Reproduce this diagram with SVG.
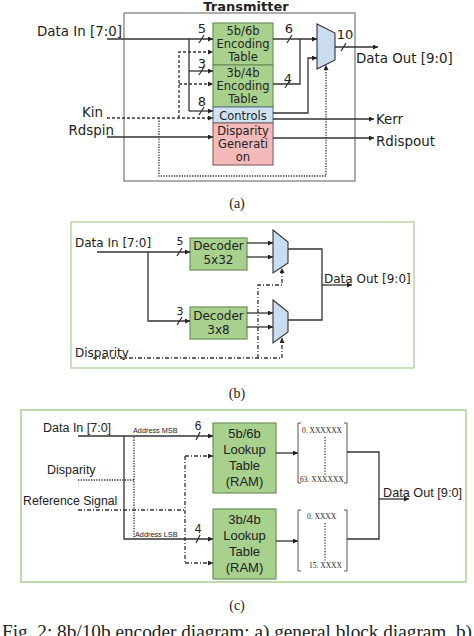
<svg xmlns="http://www.w3.org/2000/svg" width="474" height="636" viewBox="0 0 474 636">
<defs>
<marker id="ar" viewBox="0 0 6 6" refX="6" refY="3" markerWidth="5" markerHeight="5" markerUnits="userSpaceOnUse" orient="auto"><path d="M0,0 L6,3 L0,6 z" fill="#222"/></marker>
</defs>
<style>
.ln{fill:none;stroke:#333;stroke-width:1.3}
.a{marker-end:url(#ar)}
.da{stroke-dasharray:3,2}
.dt{stroke-dasharray:1.3,1.3}
.dd{stroke-dasharray:4,2,1,2}
.t{font-family:"DejaVu Sans",sans-serif;fill:#222}
.c{font-family:"Liberation Sans",sans-serif;fill:#222}
.s{font-family:"Liberation Serif",serif;fill:#222}
.g{fill:#a9d18e;stroke:#6f8f5c;stroke-width:1.2}
.mux{fill:#c9dcf0;stroke:#333;stroke-width:1.1}
.br{fill:none;stroke:#555;stroke-width:1}
</style>
<rect width="474" height="636" fill="#fff"/>

<!-- ===== (a) ===== -->
<g id="a-frame">
<rect x="124" y="13" width="231" height="168" fill="none" stroke="#777" stroke-width="1.2"/>
<text class="t" x="246" y="11" font-size="13" font-weight="bold" text-anchor="middle">Transmitter</text>
</g>
<g id="a-enc56">
<rect x="213" y="23" width="60" height="42" class="g"/>
<text class="t" x="243" y="35" font-size="11.5" text-anchor="middle">5b/6b</text>
<text class="t" x="243" y="48" font-size="11.5" text-anchor="middle">Encoding</text>
<text class="t" x="243" y="61" font-size="11.5" text-anchor="middle">Table</text>
</g>
<g id="a-enc34">
<rect x="213" y="65" width="60" height="42" class="g"/>
<text class="t" x="243" y="77" font-size="11.5" text-anchor="middle">3b/4b</text>
<text class="t" x="243" y="90" font-size="11.5" text-anchor="middle">Encoding</text>
<text class="t" x="243" y="103" font-size="11.5" text-anchor="middle">Table</text>
</g>
<g id="a-controls">
<rect x="213" y="107" width="60" height="16" fill="#cfe2f3" stroke="#6a7f95" stroke-width="1.2"/>
<text class="t" x="243" y="120" font-size="11.5" text-anchor="middle" fill="#1f2f45">Controls</text>
</g>
<g id="a-disp">
<rect x="213" y="123" width="60" height="42" fill="#f4b9b9" stroke="#8a6a6a" stroke-width="1.2"/>
<text class="t" x="243" y="135" font-size="11.5" text-anchor="middle" fill="#4a1a1a">Disparity</text>
<text class="t" x="243" y="148" font-size="11.5" text-anchor="middle" fill="#4a1a1a">Generati</text>
<text class="t" x="243" y="161" font-size="11.5" text-anchor="middle" fill="#4a1a1a">on</text>
</g>
<g id="a-mux">
<polygon points="317,24 335,33 335,60 317,69" class="mux"/>
</g>
<g id="a-labels">
<text class="t" x="37" y="36" font-size="13.4">Data In [7:0]</text>
<text class="t" x="103" y="117" font-size="13.4" text-anchor="end">Kin</text>
<text class="t" x="114" y="135" font-size="13.4" text-anchor="end">Rdspin</text>
<text class="t" x="356" y="63" font-size="13.4">Data Out [9:0]</text>
<text class="t" x="376" y="124" font-size="13.4">Kerr</text>
<text class="t" x="376" y="146" font-size="13.4">Rdispout</text>
<text class="t" x="202" y="33" font-size="13" text-anchor="middle">5</text>
<text class="t" x="202" y="68" font-size="13" text-anchor="middle">3</text>
<text class="t" x="202" y="106" font-size="13" text-anchor="middle">8</text>
<text class="t" x="289" y="33" font-size="13" text-anchor="middle">6</text>
<text class="t" x="288" y="83" font-size="13" text-anchor="middle">4</text>
<text class="t" x="345" y="39" font-size="13" text-anchor="middle">10</text>
<text class="s" x="237" y="208" font-size="14" text-anchor="middle">(a)</text>
</g>

<!-- ===== (b) ===== -->
<g id="b-frame">
<rect x="71" y="222" width="343" height="146" fill="none" stroke="#b7d7a3" stroke-width="1.5"/>
</g>
<g id="b-dec1">
<rect x="190" y="238" width="57" height="32" class="g"/>
<text class="t" x="218.5" y="250" font-size="12" text-anchor="middle">Decoder</text>
<text class="t" x="218.5" y="264" font-size="12" text-anchor="middle">5x32</text>
</g>
<g id="b-dec2">
<rect x="190" y="307" width="57" height="32" class="g"/>
<text class="t" x="218.5" y="320" font-size="12" text-anchor="middle">Decoder</text>
<text class="t" x="218.5" y="334" font-size="12" text-anchor="middle">3x8</text>
</g>
<g id="b-mux1"><polygon points="273,230 288,242 288,263 273,273" class="mux"/></g>
<g id="b-mux2"><polygon points="273,300 288,312 288,332 273,343" class="mux"/></g>
<g id="b-labels">
<text class="t" x="75" y="247" font-size="12">Data In [7:0]</text>
<text class="t" x="75" y="357" font-size="12">Disparity</text>
<text class="t" x="324" y="283" font-size="12">Data Out [9:0]</text>
<text class="t" x="180" y="245" font-size="11" text-anchor="middle">5</text>
<text class="t" x="180" y="315" font-size="11" text-anchor="middle">3</text>
<text class="s" x="237" y="398" font-size="14" text-anchor="middle">(b)</text>
</g>

<!-- ===== (c) ===== -->
<g id="c-frame">
<rect x="21" y="410" width="445" height="172" fill="none" stroke="#a9d18e" stroke-width="1.5"/>
</g>
<g id="c-lut56">
<rect x="213" y="423" width="63" height="70" class="g"/>
<text class="c" x="244.5" y="438" font-size="13" text-anchor="middle">5b/6b</text>
<text class="c" x="244.5" y="454" font-size="13" text-anchor="middle">Lookup</text>
<text class="c" x="244.5" y="470" font-size="13" text-anchor="middle">Table</text>
<text class="c" x="244.5" y="486" font-size="13" text-anchor="middle">(RAM)</text>
</g>
<g id="c-lut34">
<rect x="213" y="509" width="63" height="70" class="g"/>
<text class="c" x="244.5" y="524" font-size="13" text-anchor="middle">3b/4b</text>
<text class="c" x="244.5" y="540" font-size="13" text-anchor="middle">Lookup</text>
<text class="c" x="244.5" y="556" font-size="13" text-anchor="middle">Table</text>
<text class="c" x="244.5" y="572" font-size="13" text-anchor="middle">(RAM)</text>
</g>
<g id="c-mem1">
<path d="M301,423 H298 V483 H301 M344,423 H347 V483 H344" class="br"/>
<path d="M325,437 V476" fill="none" stroke="#333" stroke-width="1.3" stroke-dasharray="1.2,1.6"/>
<text class="s" x="302" y="433" font-size="7.5">0. XXXXXX</text>
<text class="s" x="300" y="482" font-size="7.5">63. XXXXXX</text>
</g>
<g id="c-mem2">
<path d="M301,510 H298 V571 H301 M344,510 H347 V571 H344" class="br"/>
<path d="M325,523 V562" fill="none" stroke="#333" stroke-width="1.3" stroke-dasharray="1.2,1.6"/>
<text class="s" x="307" y="519" font-size="7.5">0. XXXX</text>
<text class="s" x="309" y="568" font-size="7.5">15. XXXX</text>
</g>
<g id="c-labels">
<text class="c" x="43" y="432" font-size="12.5">Data In [7:0]</text>
<text class="c" x="47" y="474" font-size="12.5">Disparity</text>
<text class="c" x="23" y="505" font-size="12.3">Reference Signal</text>
<text class="c" x="383" y="497" font-size="12.7">Data Out [9:0]</text>
<text class="c" x="133" y="433" font-size="7.3">Address MSB</text>
<text class="c" x="135" y="537" font-size="7.3">Address LSB</text>
<text class="c" x="198" y="430" font-size="12" text-anchor="middle">6</text>
<text class="c" x="198" y="533" font-size="12" text-anchor="middle">4</text>
<text class="s" x="237" y="610" font-size="14" text-anchor="middle">(c)</text>
</g>
<g id="caption">
<text class="s" x="2" y="638" font-size="19" textLength="470" lengthAdjust="spacingAndGlyphs">Fig. 2: 8b/10b encoder diagram: a) general block diagram, b)</text>
</g>

<!-- ===== connectors ===== -->
<g id="connectors">
<!-- (a) -->
<path d="M107,39 H213" class="ln a"/>
<path d="M189,39 V111" class="ln"/>
<path d="M189,71 H213" class="ln a"/>
<path d="M189,111 H213" class="ln a"/>
<path d="M107,118 H213" class="ln a da"/>
<path d="M179,118 V52 H213" class="ln a da"/>
<path d="M179,84 H213" class="ln a da"/>
<path d="M159,118 V176 H326 V65" class="ln a dt"/>
<path d="M107,137 H213" class="ln a"/>
<path d="M273,39 H317" class="ln a"/>
<path d="M273,84 H300 V39" class="ln"/>
<path d="M273,113 H308 V58 H317" class="ln a"/>
<path d="M335,47 H378" class="ln a"/>
<path d="M273,119 H374" class="ln a"/>
<path d="M273,138 H374" class="ln a"/>
<path d="M199,43 L204,35 M199,75 L204,67 M199,115 L204,107 M287,43 L292,35 M285,88 L290,80 M341,51 L346,43" class="ln" stroke-width="1"/>
<!-- (b) -->
<path d="M97,252 H190" class="ln a"/>
<path d="M148,252 V321 H190" class="ln a"/>
<path d="M247,243 H273" class="ln a"/>
<path d="M247,257 H273" class="ln a"/>
<path d="M247,313 H273" class="ln a"/>
<path d="M247,327 H273" class="ln a"/>
<path d="M288,249 H322 V320 H288" class="ln"/>
<path d="M322,285 H352" class="ln a"/>
<path d="M93,358 H282 V338" class="ln a dd" stroke-width="1.1"/>
<path d="M258,358 V285 H282 V268" class="ln a dd" stroke-width="1.1"/>
<path d="M177,256 L182,248 M177,325 L182,317" class="ln" stroke-width="1"/>
<!-- (c) -->
<path d="M78,436 H213" class="ln a"/>
<path d="M124,436 V539 H213" class="ln a"/>
<path d="M134,437 V539" class="ln dt" stroke-width="1.1"/>
<path d="M78,480 H134" class="ln dt" stroke-width="1.1"/>
<path d="M78,510 H185" class="ln dd" stroke-width="1.1"/>
<path d="M185,456 V563" class="ln dd" stroke-width="1.1"/>
<path d="M185,456 H213" class="ln a dd" stroke-width="1.1"/>
<path d="M185,563 H213" class="ln a dd" stroke-width="1.1"/>
<path d="M276,453 H298" class="ln a"/>
<path d="M276,541 H298" class="ln a"/>
<path d="M347,452 H379 V539 H347" class="ln"/>
<path d="M379,499 H409" class="ln a"/>
<path d="M196,440 L200,432 M196,543 L200,535" class="ln" stroke-width="1"/>
</g>
</svg>
